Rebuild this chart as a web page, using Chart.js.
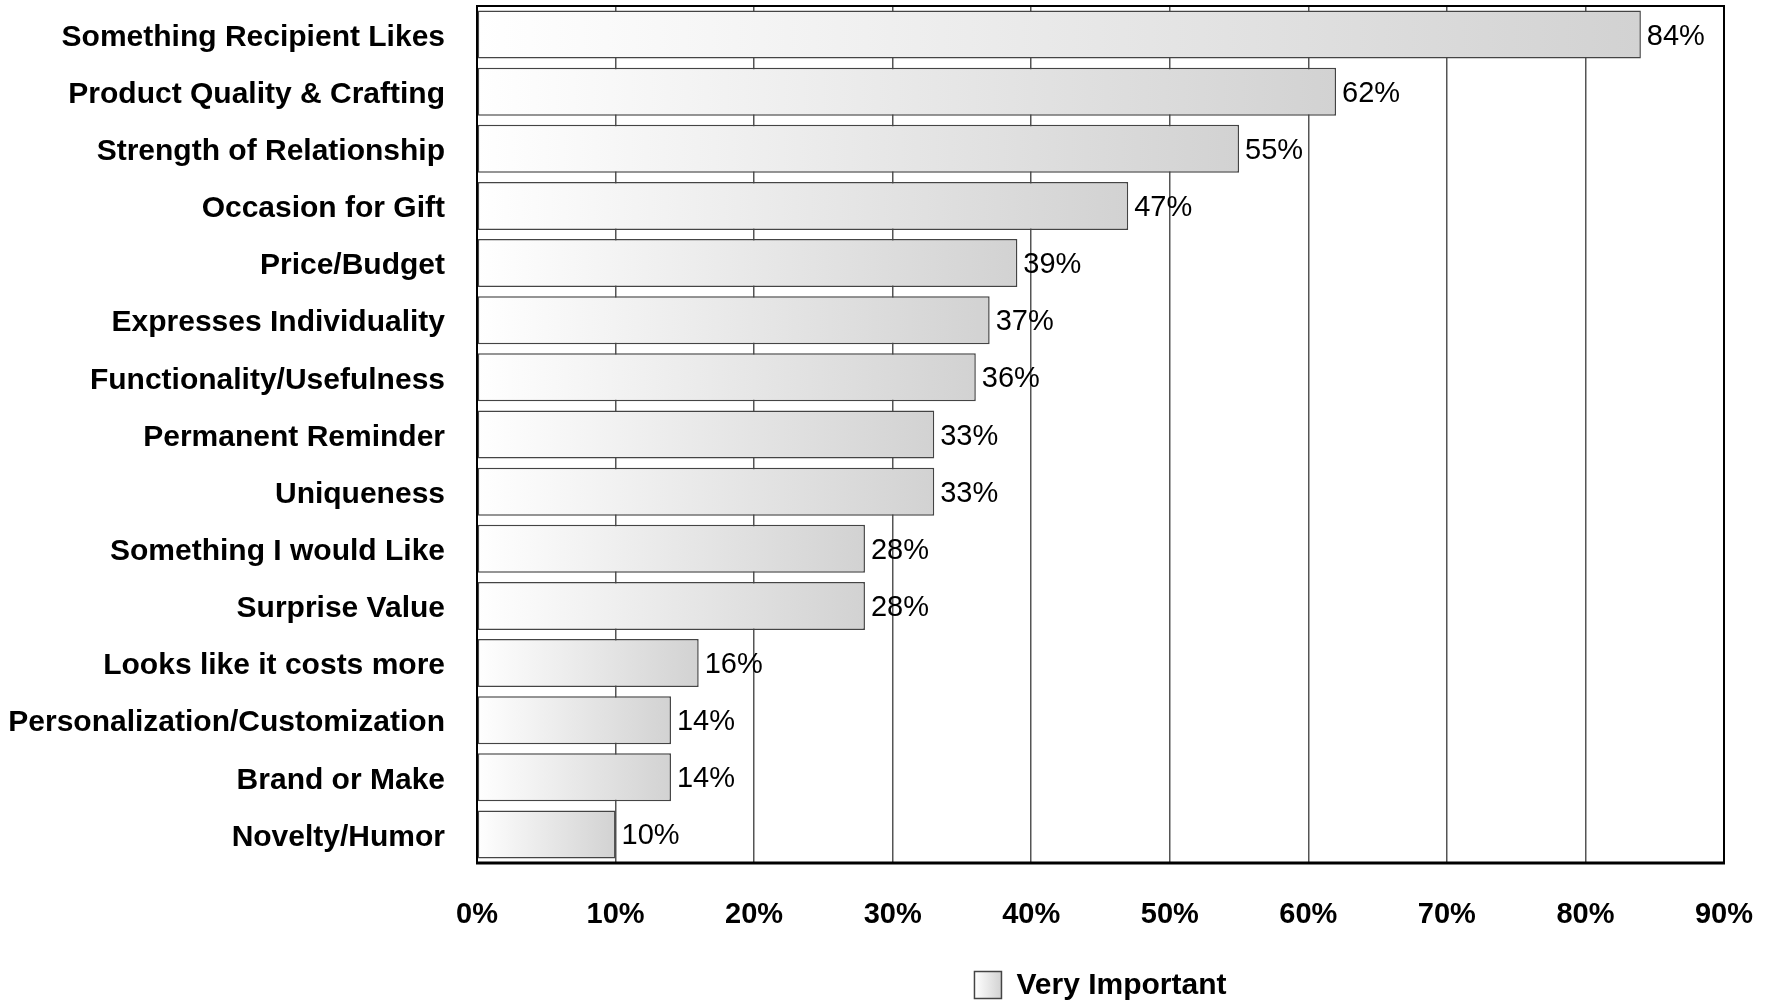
<!DOCTYPE html>
<html>
<head>
<meta charset="utf-8">
<script src="https://cdn.jsdelivr.net/npm/chart.js@4/dist/chart.umd.min.js"></script>
<style>
html,body{margin:0;padding:0;background:#fff;}
#wrap{width:1772px;height:1001px;position:relative;}
</style>
</head>
<body>
<div id="wrap"><canvas id="c" width="1772" height="1001"></canvas></div>
<script>
const categories = [
  "Something Recipient Likes",
  "Product Quality & Crafting",
  "Strength of Relationship",
  "Occasion for Gift",
  "Price/Budget",
  "Expresses Individuality",
  "Functionality/Usefulness",
  "Permanent Reminder",
  "Uniqueness",
  "Something I would Like",
  "Surprise Value",
  "Looks like it costs more",
  "Personalization/Customization",
  "Brand or Make",
  "Novelty/Humor"
];
const veryImportant = [84, 62, 55, 47, 39, 37, 36, 33, 33, 28, 28, 16, 14, 14, 10];
const seriesName = "Very Important";
const xTickValues = [0, 10, 20, 30, 40, 50, 60, 70, 80, 90];

const FONT = "'Liberation Sans', Arial, sans-serif";

function makeGrad(ctx, x0, x1) {
  const g = ctx.createLinearGradient(x0, 0, Math.max(x1, x0 + 1), 0);
  g.addColorStop(0, '#ffffff');
  g.addColorStop(1, '#d2d2d2');
  return g;
}

function barGradient(ctx) {
  const chart = ctx.chart;
  if (!chart.chartArea || !chart.scales.x) return '#e6e6e6';
  const xs = chart.scales.x;
  const x0 = xs.getPixelForValue(0);
  const x1 = xs.getPixelForValue(ctx.raw != null ? ctx.raw : xs.max);
  return makeGrad(chart.ctx, x0, x1);
}

const valueLabels = {
  id: 'valueLabels',
  afterDatasetsDraw(chart) {
    const ctx = chart.ctx;
    const meta = chart.getDatasetMeta(0);
    ctx.save();
    ctx.font = "29px " + FONT;
    ctx.fillStyle = '#000';
    ctx.textAlign = 'left';
    ctx.textBaseline = 'middle';
    meta.data.forEach((el, i) => {
      ctx.fillText(veryImportant[i] + '%', el.x + 6, el.y + 2);
    });
    ctx.restore();
  }
};

const frameAndLegend = {
  id: 'frameAndLegend',
  afterDraw(chart) {
    const a = chart.chartArea;
    const ctx = chart.ctx;
    ctx.save();
    ctx.strokeStyle = '#000';
    ctx.lineWidth = 2;
    ctx.strokeRect(a.left, a.top, a.right - a.left, a.bottom - a.top);
    ctx.lineWidth = 3;
    ctx.beginPath();
    ctx.moveTo(a.left - 1, a.bottom);
    ctx.lineTo(a.right + 1, a.bottom);
    ctx.stroke();

    // legend, centred under the plot area
    ctx.font = "bold 30px " + FONT;
    const box = 27, gap = 15;
    const tw = ctx.measureText(seriesName).width;
    const total = box + gap + tw;
    const cx = (a.left + a.right) / 2;
    const lx = cx - total / 2;
    const cy = 985;
    ctx.fillStyle = makeGrad(ctx, lx, lx + box);
    ctx.fillRect(lx, cy - box / 2, box, box);
    ctx.strokeStyle = '#444';
    ctx.lineWidth = 1.5;
    ctx.strokeRect(lx, cy - box / 2, box, box);
    ctx.fillStyle = '#000';
    ctx.textAlign = 'left';
    ctx.textBaseline = 'middle';
    ctx.fillText(seriesName, lx + box + gap, cy + 1);
    ctx.restore();
  }
};

new Chart(document.getElementById('c'), {
  type: 'bar',
  data: {
    labels: categories,
    datasets: [{
      label: seriesName,
      data: veryImportant,
      backgroundColor: barGradient,
      borderColor: '#444444',
      borderWidth: 1.5,
      borderSkipped: false,
      barPercentage: 0.84,
      categoryPercentage: 1.0
    }]
  },
  options: {
    indexAxis: 'y',
    responsive: false,
    animation: false,
    devicePixelRatio: 1,
    layout: { padding: { top: 6, right: 48, left: 0, bottom: 0 } },
    scales: {
      x: {
        min: 0, max: 90,
        afterBuildTicks(scale) { scale.ticks = xTickValues.map(v => ({ value: v })); },
        afterFit(scale) {
          scale.height = 138;
          scale.paddingLeft = 0; scale.paddingRight = 0;
        },
        grid: { color: '#555555', lineWidth: 1.5, drawTicks: false },
        border: { display: false },
        ticks: {
          padding: 35,
          color: '#000',
          font: { family: FONT, size: 29, weight: 'bold' },
          callback: v => v + '%',
          maxRotation: 0
        }
      },
      y: {
        afterFit(scale) {
          scale.width = 477;
          scale.paddingTop = 0; scale.paddingBottom = 0;
        },
        grid: { display: false, drawTicks: false },
        border: { display: false },
        ticks: {
          padding: 32,
          labelOffset: 3,
          color: '#000',
          font: { family: FONT, size: 30, weight: 'bold' },
          autoSkip: false
        }
      }
    },
    plugins: {
      tooltip: { enabled: false },
      legend: { display: false }
    }
  },
  plugins: [valueLabels, frameAndLegend]
});
</script>
</body>
</html>
